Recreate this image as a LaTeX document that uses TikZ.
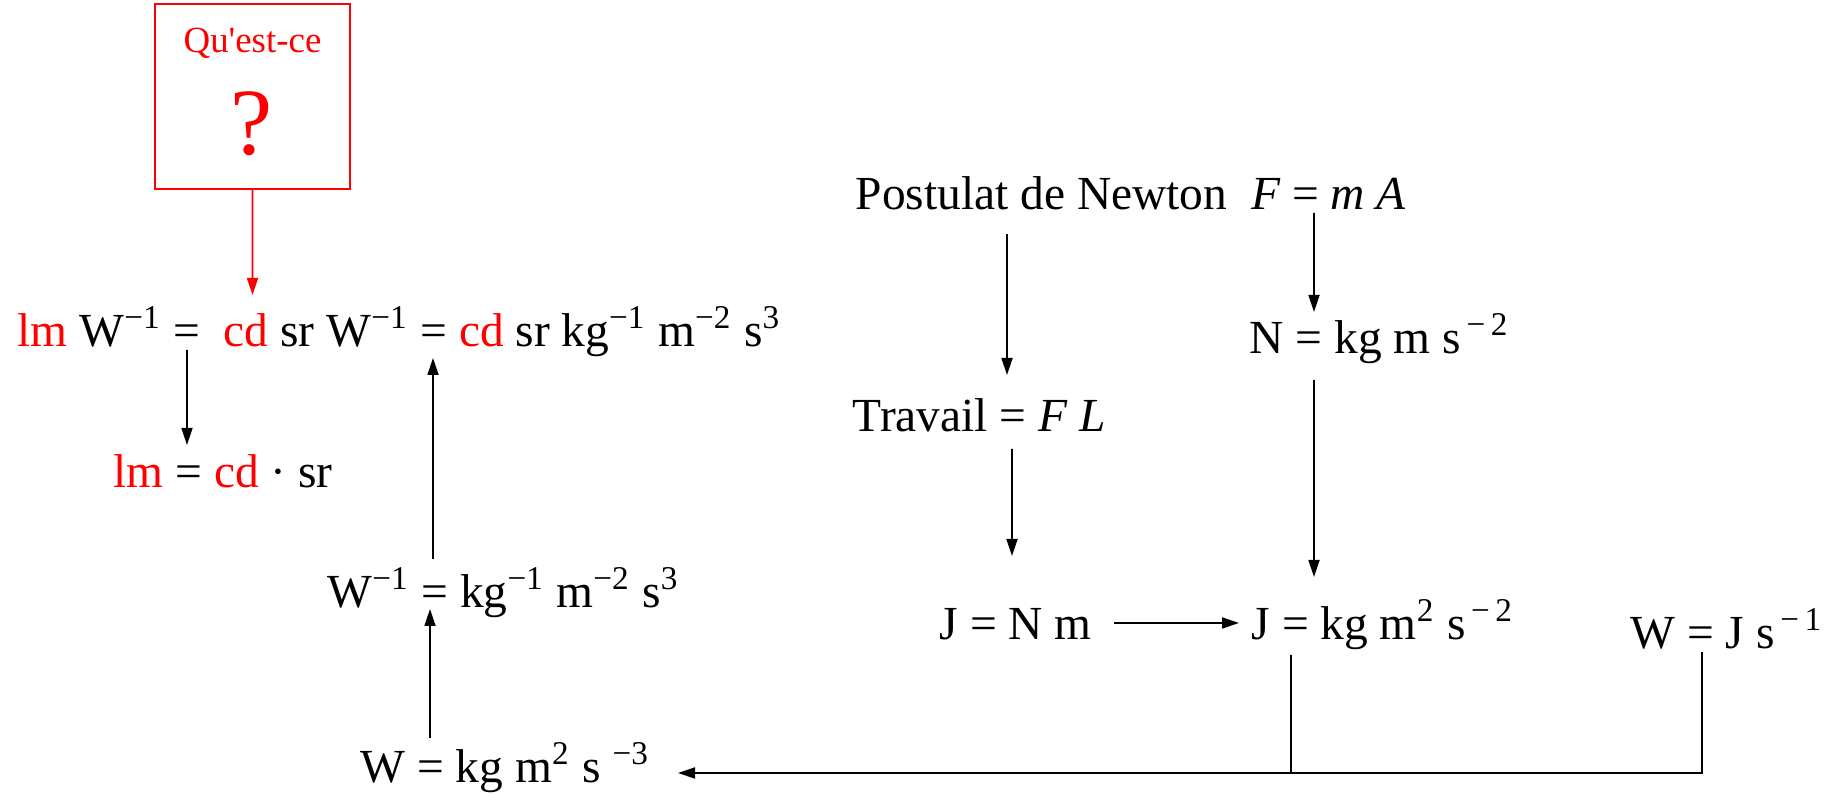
\documentclass[tikz,border=0pt]{standalone}
\usepackage{fontspec}
\setmainfont{Liberation Serif}
\usetikzlibrary{arrows.meta}

\begin{document}
\begin{tikzpicture}[
  font=\fontsize{13.5}{16}\selectfont,
  eq/.style={anchor=base west,inner sep=0pt},
  qbox/.style={rectangle,draw=red,line width=0.6pt,minimum width=1.95cm,minimum height=1.85cm,inner sep=0pt},
  arr/.style={-{Triangle[length=1.7mm,width=1.1mm]},line width=0.5pt},
  link/.style={line width=0.5pt},
  redarr/.style={arr,red}
]
\useasboundingbox (0,0) rectangle (18.27,7.95);
\node[qbox] (question) at (2.525,6.985) {};
\node[red,anchor=base,inner sep=0pt,font=\fontsize{10.5}{12}\selectfont] (qtext) at (2.525,7.42) {Qu\textquotesingle est-ce};
\node[red,anchor=base,inner sep=0pt,font=\fontsize{27}{30}\selectfont] (qmark) at (2.52,6.40) {?};
\node[eq] (lmW) at (0.17,4.48) {\textcolor{red}{lm} W\textsuperscript{−1} =~~\textcolor{red}{cd} sr W\textsuperscript{−1} = \textcolor{red}{cd} sr kg\textsuperscript{−1} m\textsuperscript{−2} s\textsuperscript{3}};
\node[eq] (lmcd) at (1.13,3.07) {\textcolor{red}{lm} = \textcolor{red}{cd} ·~sr};
\node[eq] (Winv) at (3.27,1.87) {W\textsuperscript{−1} = kg\textsuperscript{−1} m\textsuperscript{−2} s\textsuperscript{3}};
\node[eq] (Wkg) at (3.60,0.12) {W = kg m\textsuperscript{2} s \textsuperscript{−3}};
\node[eq] (newton) at (8.55,5.85) {Postulat de Newton~~\textit{F} = \textit{m A}};
\node[eq] (Nkg) at (12.49,4.41) {N = kg m s\textsuperscript{\,−\,2}};
\node[eq] (travail) at (8.52,3.63) {Travail = \textit{F L}};
\node[eq] (JNm) at (9.39,1.55) {J = N m};
\node[eq] (Jkg) at (12.51,1.55) {J = kg m\textsuperscript{2} s\textsuperscript{\,−\,2}};
\node[eq] (WJs) at (16.30,1.46) {W = J s\textsuperscript{\,−\,1}};
\coordinate (join) at (12.91,0.22);

\draw[redarr] (question.south) -- ([xshift=2.355cm,yshift=0.52cm]lmW.base west);
\draw[arr] ([xshift=1.70cm,yshift=-0.03cm]lmW.base west) -- ([xshift=0.74cm,yshift=0.43cm]lmcd.base west);
\draw[arr] ([xshift=1.06cm,yshift=0.49cm]Winv.base west) -- ([xshift=4.16cm,yshift=-0.11cm]lmW.base west);
\draw[arr] ([xshift=0.70cm,yshift=0.45cm]Wkg.base west) -- ([xshift=1.03cm,yshift=-0.01cm]Winv.base west);
\draw[arr] ([xshift=1.52cm,yshift=-0.24cm]newton.base west) -- ([xshift=1.55cm,yshift=0.57cm]travail.base west);
\draw[arr] ([xshift=4.59cm,yshift=-0.03cm]newton.base west) -- ([xshift=0.65cm,yshift=0.42cm]Nkg.base west);
\draw[arr] ([xshift=1.60cm,yshift=-0.17cm]travail.base west) -- ([xshift=0.73cm,yshift=0.84cm]JNm.base west);
\draw[arr] ([xshift=0.65cm,yshift=-0.26cm]Nkg.base west) -- ([xshift=0.63cm,yshift=0.63cm]Jkg.base west);
\draw[arr] ([xshift=1.75cm,yshift=0.17cm]JNm.base west) -- ([xshift=-0.12cm,yshift=0.17cm]Jkg.base west);
\draw[link] ([xshift=0.40cm,yshift=-0.15cm]Jkg.base west) -- (join);
\draw[arr] ([xshift=0.72cm,yshift=-0.03cm]WJs.base west) |- ([xshift=3.18cm,yshift=0.10cm]Wkg.base west);
\end{tikzpicture}
\end{document}
